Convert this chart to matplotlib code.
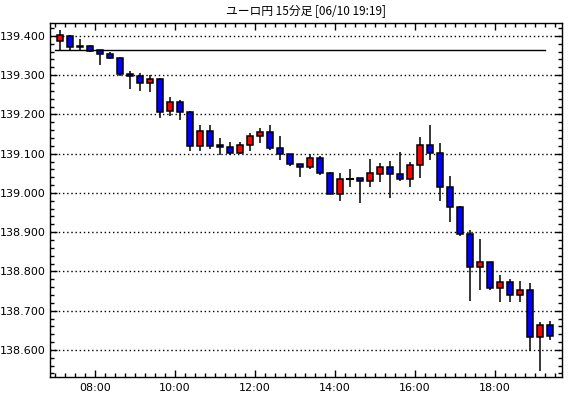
import matplotlib
matplotlib.use("Agg")
import matplotlib.pyplot as plt
from matplotlib.ticker import MultipleLocator, FuncFormatter, FixedLocator
from matplotlib.patches import Rectangle

plt.rcParams['font.family'] = ['DejaVu Sans', 'Noto Sans CJK JP']

title = "ユーロ円 15分足 [06/10 19:19]"

# candle start hour (07:00 onward, 15-min bars)
start_hour = 7.0
opens = [139.387, 139.400, 139.375, 139.375, 139.364, 139.354, 139.344, 139.303, 139.298, 139.281,
         139.290, 139.209, 139.232, 139.207, 139.119, 139.159, 139.123, 139.117, 139.101, 139.122,
         139.144, 139.155, 139.115, 139.100, 139.074, 139.066, 139.089, 139.051, 138.998, 139.036,
         139.037, 139.031, 139.049, 139.067, 139.049, 139.036, 139.072, 139.122, 139.102, 139.016,
         138.965, 138.896, 138.812, 138.823, 138.758, 138.772, 138.741, 138.752, 138.634, 138.663]
highs = [139.415, 139.402, 139.392, 139.376, 139.365, 139.358, 139.346, 139.310, 139.305, 139.300,
         139.293, 139.245, 139.237, 139.210, 139.174, 139.174, 139.139, 139.131, 139.131, 139.152,
         139.166, 139.174, 139.146, 139.100, 139.075, 139.100, 139.095, 139.054, 139.052, 139.060,
         139.039, 139.087, 139.076, 139.082, 139.105, 139.080, 139.142, 139.174, 139.127, 139.042,
         138.967, 138.905, 138.882, 138.825, 138.792, 138.780, 138.775, 138.771, 138.670, 138.674]
lows = [139.364, 139.364, 139.364, 139.360, 139.325, 139.341, 139.298, 139.265, 139.261, 139.257,
        139.192, 139.195, 139.187, 139.108, 139.108, 139.112, 139.097, 139.097, 139.099, 139.108,
        139.128, 139.110, 139.083, 139.068, 139.040, 139.061, 139.046, 138.998, 138.979, 139.015,
        138.974, 139.015, 139.027, 138.987, 139.030, 139.015, 139.038, 139.085, 138.979, 138.926,
        138.890, 138.725, 138.752, 138.752, 138.723, 138.723, 138.723, 138.596, 138.547, 138.625]
closes = [139.402, 139.371, 139.371, 139.361, 139.354, 139.343, 139.303, 139.298, 139.281, 139.290,
          139.206, 139.232, 139.206, 139.119, 139.159, 139.119, 139.117, 139.101, 139.122, 139.146,
          139.155, 139.114, 139.100, 139.074, 139.066, 139.089, 139.051, 138.998, 139.036, 139.036,
          139.031, 139.050, 139.067, 139.049, 139.035, 139.072, 139.122, 139.102, 139.016, 138.965,
          138.896, 138.812, 138.823, 138.758, 138.772, 138.741, 138.752, 138.634, 138.663, 138.636]

ref_level = 139.364
ref_start, ref_end = 7.0, 19.25

xtick_hours = [8, 10, 12, 14, 16, 18]
xtick_labels = ["08:00", "10:00", "12:00", "14:00", "16:00", "18:00"]

fig = plt.figure(figsize=(5.70, 3.98), dpi=100)
ax = fig.add_axes([50/570, 1-377/398, (562-50)/570, (377-23)/398])

bar_len = 0.25
body_w = 0.165
for i, (o, h, l, c) in enumerate(zip(opens, highs, lows, closes)):
    xc = start_hour + bar_len * (i + 0.5)
    ax.plot([xc, xc], [l, h], color='black', lw=1.1, zorder=2, solid_capstyle='butt')
    color = '#ff0000' if c > o else '#0000ff'
    bottom = min(o, c)
    height = abs(c - o)
    if height < 0.002:
        ax.plot([xc - body_w/2, xc + body_w/2], [o, o], color='black', lw=1.5, zorder=3)
    else:
        ax.add_patch(Rectangle((xc - body_w/2, bottom), body_w, height,
                               facecolor=color, edgecolor='black', lw=1.1, zorder=3))

ax.plot([ref_start, ref_end], [ref_level, ref_level], color='black', lw=1.0, zorder=4)

ax.set_xlim(6.875, 19.675)
ax.set_ylim(138.531, 139.433)

ax.yaxis.set_major_locator(MultipleLocator(0.1))
ax.yaxis.set_minor_locator(MultipleLocator(0.02))
ax.yaxis.set_major_formatter(FuncFormatter(lambda v, p: f"{v:.3f}"))
ax.xaxis.set_major_locator(FixedLocator(xtick_hours))
ax.set_xticklabels(xtick_labels)
ax.xaxis.set_minor_locator(MultipleLocator(0.25))

ax.grid(axis='y', which='major', color='black', linestyle=(0, (1, 2)), lw=1.0)
ax.set_axisbelow(True)

ax.tick_params(which='both', direction='in', top=True, right=True, labelsize=8, colors='black', pad=3)
ax.tick_params(which='major', length=5, width=1)
ax.tick_params(which='minor', length=3, width=1)
ax.tick_params(axis='x', pad=4)
for s in ax.spines.values():
    s.set_linewidth(1.0)
    s.set_color('black')

fig.text((50+562)/2/570, 1-11/398, title, ha='center', va='center', fontsize=8.5,
         family=['Noto Sans CJK JP', 'DejaVu Sans'])

fig.savefig("out.png", dpi=100)
